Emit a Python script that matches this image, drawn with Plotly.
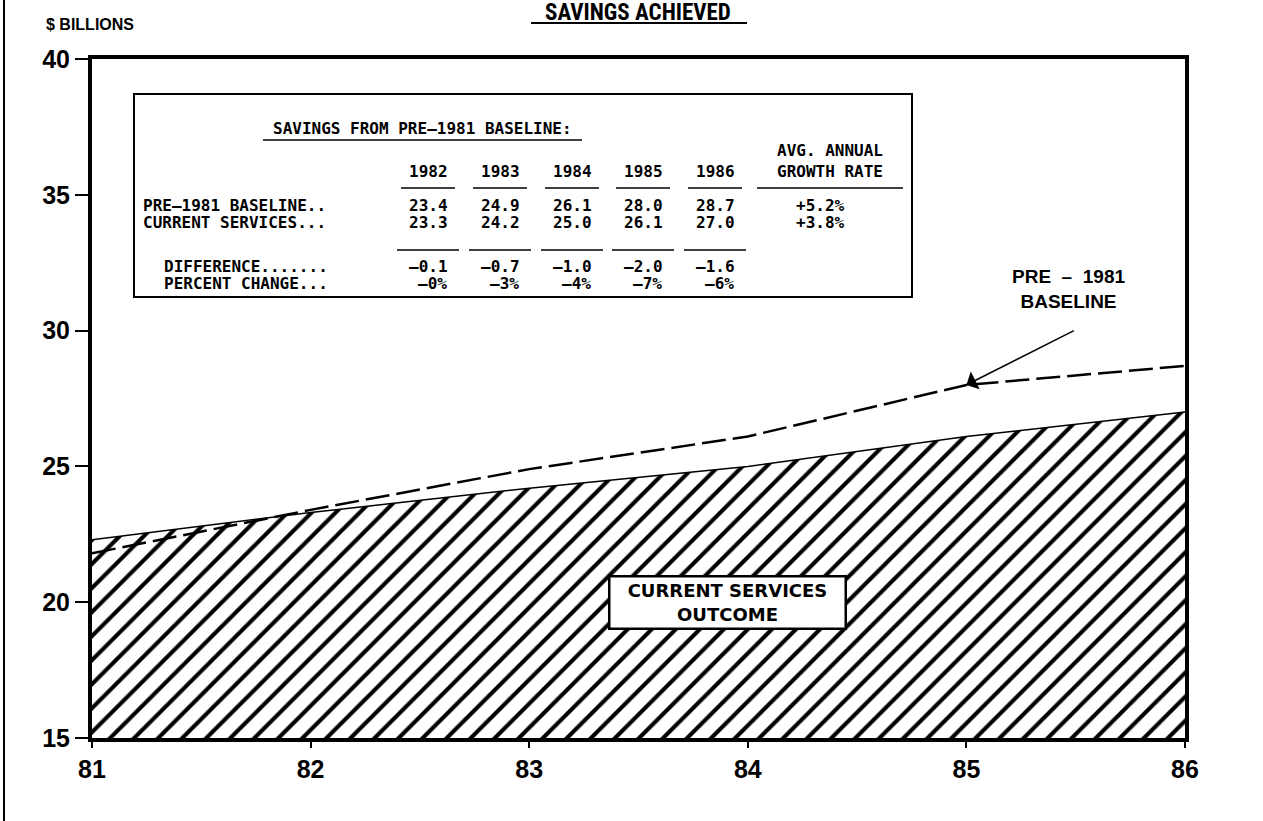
import plotly.graph_objects as go

# ---- data -------------------------------------------------------------
years = [81, 82, 83, 84, 85, 86]
current_services = [22.3, 23.3, 24.2, 25.0, 26.1, 27.0]
pre1981_baseline = [21.8, 23.4, 24.9, 26.1, 28.0, 28.7]

table_years = ["1982", "1983", "1984", "1985", "1986"]
table_baseline = [23.4, 24.9, 26.1, 28.0, 28.7]
table_current = [23.3, 24.2, 25.0, 26.1, 27.0]
table_difference = [-0.1, -0.7, -1.0, -2.0, -1.6]
table_percent = [0, -3, -4, -7, -6]
growth_rates = [5.2, 3.8]

y_ticks = [15, 20, 25, 30, 35, 40]

# ---- page geometry (pixels) --------------------------------------------
W, H = 1263, 821
ML, MR, MT, MB = 92, 78, 59, 83


def paper(xp, yp):
    """Convert page pixel position to paper coordinates."""
    return (xp - ML) / (W - ML - MR), 1 - (yp - MT) / (H - MT - MB)


MONO = "DejaVu Sans Mono"
SANS = "DejaVu Sans"
HELV = "Liberation Sans, Arial"
NARROW = "Liberation Sans Narrow, Roboto Condensed, Roboto, Arial"
NB = "\u00a0"


def minus(s):
    return s.replace("-", "\u2013")


fig = go.Figure()

# Current services: hatched area
fig.add_trace(go.Scatter(
    x=years, y=current_services, mode="lines",
    line=dict(color="black", width=1.5),
    fill="tozeroy",
    fillpattern=dict(shape="/", size=17, solidity=0.24,
                     fgcolor="black", bgcolor="white", fgopacity=1),
    fillcolor="white",
    hoverinfo="skip", showlegend=False,
))

# Pre-1981 baseline: long dashes
fig.add_trace(go.Scatter(
    x=years, y=pre1981_baseline, mode="lines",
    line=dict(color="black", width=2.5, dash="24px,7px"),
    hoverinfo="skip", showlegend=False,
))

annotations = []
shapes = []


def text(xp, yp, s, size=16, family=MONO, anchor="center", weight="bold"):
    px_, py_ = paper(xp, yp)
    annotations.append(dict(
        x=px_, y=py_, xref="paper", yref="paper", text=s, showarrow=False,
        xanchor=anchor, yanchor="middle", borderpad=0,
        font=dict(family=family, size=size, color="black", weight=weight),
    ))


def hline(x0, x1, yp, width=1.5):
    a0, b0 = paper(x0, yp)
    a1, _ = paper(x1, yp)
    shapes.append(dict(type="line", xref="paper", yref="paper",
                       x0=a0, x1=a1, y0=b0, y1=b0,
                       line=dict(color="black", width=width)))


# Table box
bx0, by0 = paper(134, 297)
bx1, by1 = paper(912, 94)
shapes.append(dict(type="rect", xref="paper", yref="paper",
                   x0=bx0, x1=bx1, y0=by0, y1=by1,
                   fillcolor="white", line=dict(color="black", width=2)))

text(422, 129, "SAVINGS FROM PRE\u20131981 BASELINE:")
hline(263, 582, 140)

col_x = [428, 500, 572, 643, 715]
for cx, yr, b, c, d, p in zip(col_x, table_years, table_baseline,
                              table_current, table_difference, table_percent):
    text(cx, 172, yr)
    hline(cx - 27, cx + 27, 188)
    text(cx, 205, f"{b:.1f}")
    text(cx, 222, f"{c:.1f}")
    hline(cx - 31, cx + 31, 250)
    text(cx, 266, minus(f"{d:.1f}"))
    text(cx + 4, 283, "\u2013" + f"{abs(p)}%")

text(830, 151, "AVG." + NB + "ANNUAL")
text(830, 172, "GROWTH RATE")
hline(757, 903, 188)
text(820, 205, f"+{growth_rates[0]:.1f}%")
text(820, 222, f"+{growth_rates[1]:.1f}%")

text(142, 205, "PRE\u20131981 BASELINE..", anchor="left")
text(142, 222, "CURRENT SERVICES...", anchor="left")
text(163, 266, "DIFFERENCE.......", anchor="left")
text(163, 283, "PERCENT CHANGE...", anchor="left")

# Titles
text(638, 12, "SAVINGS ACHIEVED", size=23, family=NARROW)
hline(531, 747, 23, width=2)
text(45, 25, "$ BILLIONS", size=16, family=HELV, anchor="left")

# Baseline callout
text(1068, 289, "PRE" + NB * 2 + "\u2013" + NB * 2 + "1981<br>BASELINE",
     size=19, family=HELV)
annotations.append(dict(
    x=years[4], y=pre1981_baseline[4], xref="x", yref="y",
    ax=109, ay=-55, axref="pixel", ayref="pixel",
    showarrow=True, arrowhead=1, arrowsize=2.2, arrowwidth=1.5,
    arrowcolor="black", text="",
))

# Current services label box
cx_, cy_ = paper(727, 630)
annotations.append(dict(
    x=cx_, y=cy_, xref="paper", yref="paper", showarrow=False,
    text="CURRENT SERVICES<br>OUTCOME", align="center",
    width=234, height=50, borderpad=0,
    font=dict(family=SANS, size=18, color="black", weight="bold"),
    bgcolor="white", bordercolor="black", borderwidth=2.5,
))

# Left page border
lx, _ = paper(4, 0)
shapes.append(dict(type="line", xref="paper", yref="paper",
                   x0=lx, x1=lx, y0=-0.2, y1=1.2,
                   line=dict(color="black", width=2)))

fig.update_layout(
    width=W, height=H,
    margin=dict(l=ML, r=MR, t=MT, b=MB),
    paper_bgcolor="white", plot_bgcolor="white",
    annotations=annotations, shapes=shapes,
    showlegend=False,
)
fig.update_xaxes(
    range=[81, 86], tickvals=years, ticktext=[str(y) for y in years],
    ticks="outside", ticklen=6, tickwidth=2, tickcolor="black",
    showline=True, linewidth=4, linecolor="black", mirror=True,
    showgrid=False, zeroline=False,
    tickfont=dict(family=HELV, size=25, color="black", weight="bold"),
)
fig.update_yaxes(
    range=[15, 40], tickvals=y_ticks,
    ticks="outside", ticklen=13, tickwidth=2, tickcolor="black",
    showline=True, linewidth=4, linecolor="black", mirror=True,
    showgrid=False, zeroline=False,
    tickfont=dict(family=HELV, size=25, color="black", weight="bold"),
)

fig.write_html("out.html")
